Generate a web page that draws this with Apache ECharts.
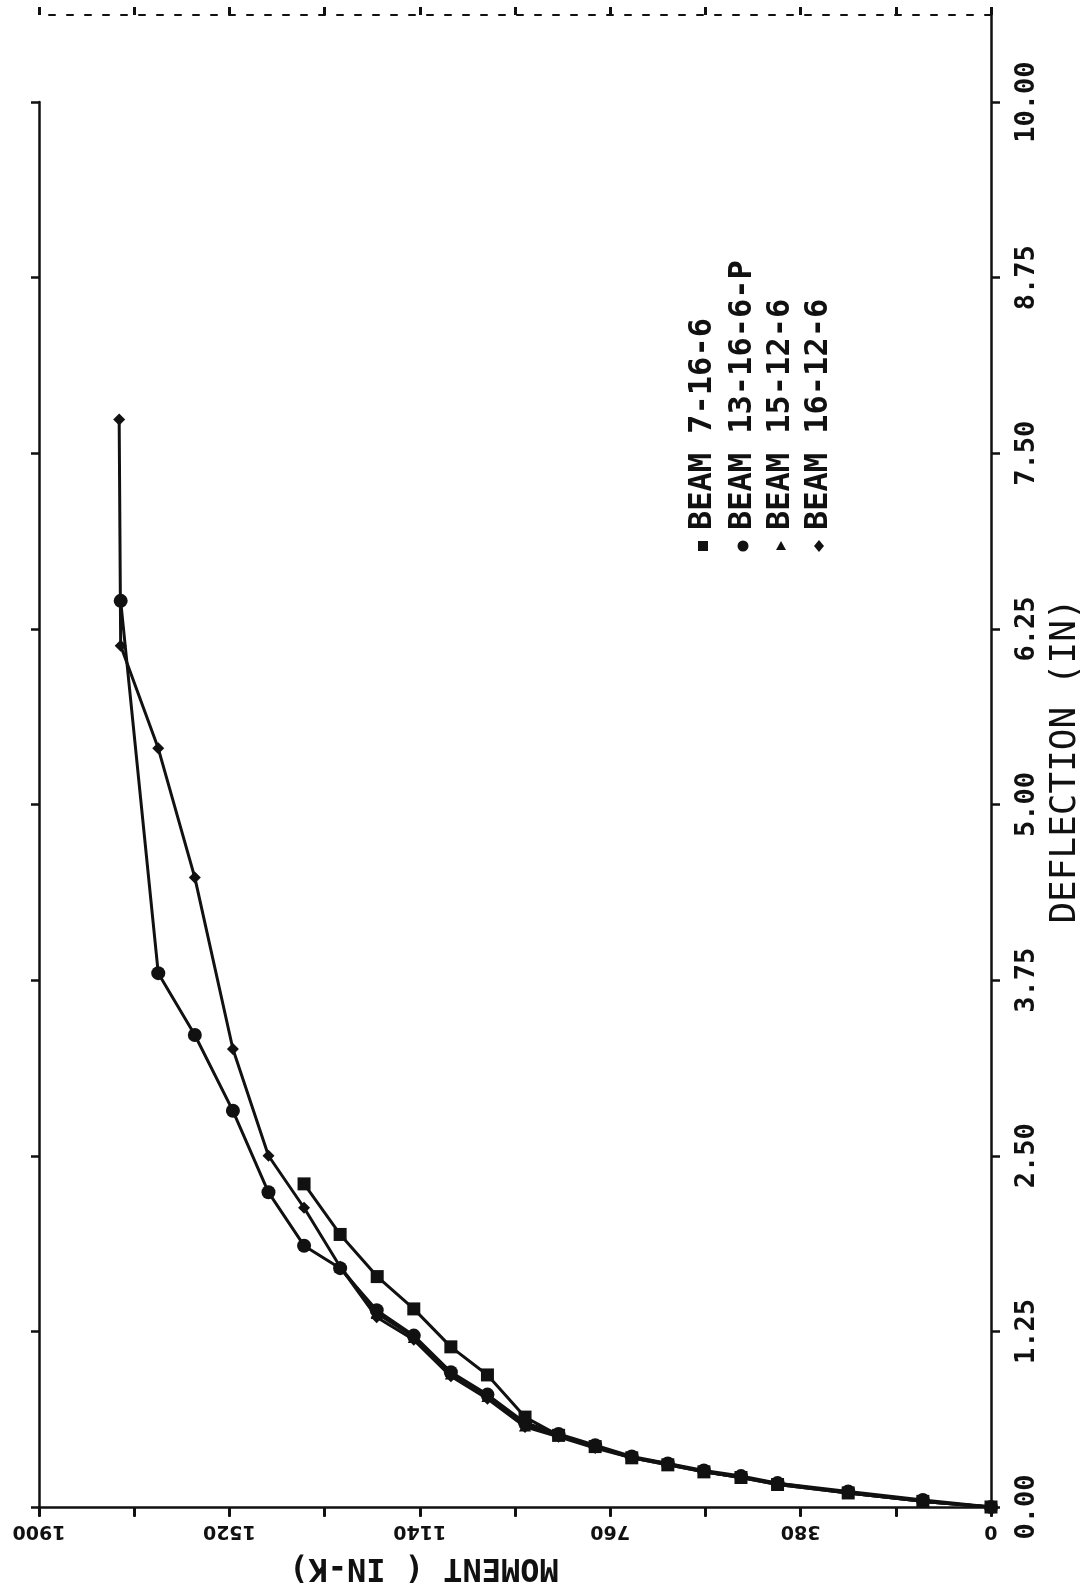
<!DOCTYPE html>
<html>
<head>
<meta charset="utf-8">
<script src="https://cdn.jsdelivr.net/npm/echarts@6/dist/echarts.min.js"></script>
<style>
  html, body { margin: 0; padding: 0; background: #ffffff; }
  #chart { width: 1087px; height: 1590px; }
</style>
</head>
<body>
<div id="chart"></div>
<script>
// Moment (in-k) vs. deflection (in) for four test beams
const beamNames = ['BEAM 7-16-6', 'BEAM 13-16-6-P', 'BEAM 15-12-6', 'BEAM 16-12-6'];
const beamSymbols = ['rect', 'circle', 'triangle', 'diamond'];

// BEAM 7-16-6
const moment7 = [0, 136, 285, 426, 499, 573, 645, 717, 790, 863, 930, 1005, 1078, 1152, 1225, 1299, 1371];
const defl7   = [0, 0.04, 0.10, 0.16, 0.21, 0.25, 0.30, 0.35, 0.43, 0.51, 0.64, 0.94, 1.14, 1.41, 1.64, 1.94, 2.30];

// BEAM 13-16-6-P
const moment13 = [0, 136, 285, 426, 499, 573, 645, 717, 790, 863, 930, 1005, 1078, 1152, 1226, 1299, 1371, 1442, 1513, 1589, 1662, 1737];
const defl13   = [0, 0.05, 0.11, 0.17, 0.22, 0.26, 0.31, 0.36, 0.44, 0.52, 0.60, 0.80, 0.96, 1.22, 1.40, 1.70, 1.86, 2.24, 2.82, 3.36, 3.80, 6.45];

// BEAM 15-12-6
const moment15 = [0, 136, 285, 426, 499, 573, 645, 717, 790, 863, 930, 1005, 1078, 1152, 1226, 1299];
const defl15   = [0, 0.04, 0.10, 0.17, 0.21, 0.25, 0.31, 0.35, 0.43, 0.51, 0.58, 0.79, 0.95, 1.21, 1.38, 1.71];

// BEAM 16-12-6
const moment16 = [0, 136, 285, 426, 499, 573, 645, 717, 790, 863, 930, 1005, 1078, 1152, 1226, 1299, 1371, 1442, 1513, 1589, 1662, 1737, 1740];
const defl16   = [0, 0.04, 0.10, 0.16, 0.21, 0.25, 0.30, 0.35, 0.42, 0.50, 0.57, 0.77, 0.93, 1.19, 1.35, 1.71, 2.13, 2.50, 3.26, 4.48, 5.40, 6.13, 7.74];

const beamMoments = [moment7, moment13, moment15, moment16];
const beamDefls = [defl7, defl13, defl15, defl16];
const beamSymbolSizes = [13, 14, 12, 12];

// Axis scales
const momentMin = 0, momentMax = 1900, momentStep = 190, momentLabelStep = 380;
const deflMin = 0, deflTop = 10, deflFrameTop = 10.62, deflStep = 1.25;

const FONT = "'DejaVu Sans Mono', 'Liberation Mono', monospace";
const INK = '#111111';

const chart = echarts.init(document.getElementById('chart'), null, { renderer: 'canvas' });

function pairs(xs, ys) { return xs.map((x, i) => [x, ys[i]]); }

const series = beamNames.map((name, i) => ({
  name: name,
  type: 'line',
  xAxisIndex: 0,
  yAxisIndex: 0,
  data: pairs(beamMoments[i], beamDefls[i]),
  symbol: beamSymbols[i],
  symbolSize: beamSymbolSizes[i],
  showAllSymbol: true,
  lineStyle: { color: INK, width: 3 },
  itemStyle: { color: INK },
  emphasis: { disabled: true },
  animation: false,
  z: 5
}));

const momentAxisBase = {
  type: 'value', min: momentMin, max: momentMax, interval: momentStep, inverse: true,
  splitLine: { show: false }
};

// Rotated legend block: key marks below, names reading upward
const legendX = [703, 743, 781, 819];
const legendKeyY = 546;
const legendTextY = 530;
const legendGraphics = [];
beamNames.forEach((name, i) => {
  legendGraphics.push({
    type: 'text',
    x: legendX[i], y: legendTextY,
    rotation: Math.PI / 2,
    style: {
      text: name, fill: INK, font: "bold 32px " + FONT,
      textAlign: 'left', textVerticalAlign: 'middle'
    },
    z: 10
  });
  const cx = legendX[i], cy = legendKeyY;
  let shape;
  if (beamSymbols[i] === 'rect') {
    shape = { type: 'rect', shape: { x: cx - 5, y: cy - 5, width: 10, height: 10 } };
  } else if (beamSymbols[i] === 'circle') {
    shape = { type: 'circle', shape: { cx: cx, cy: cy, r: 5.5 } };
  } else if (beamSymbols[i] === 'triangle') {
    shape = { type: 'polygon', shape: { points: [[cx, cy - 5], [cx + 5, cy + 4], [cx - 5, cy + 4]] } };
  } else {
    shape = { type: 'polygon', shape: { points: [[cx, cy - 6], [cx + 5, cy], [cx, cy + 6], [cx - 5, cy]] } };
  }
  shape.style = { fill: INK };
  shape.z = 10;
  legendGraphics.push(shape);
});

const option = {
  backgroundColor: '#ffffff',
  animation: false,
  grid: [
    { left: 39, right: 96, top: 15, bottom: 83, containLabel: false, outerBoundsMode: 'none' },
    { left: 39, right: 96, top: 102, bottom: 83, containLabel: false, outerBoundsMode: 'none' }
  ],
  xAxis: [
    Object.assign({}, momentAxisBase, {
      gridIndex: 0, position: 'bottom',
      name: 'MOMENT ( IN-K)', nameLocation: 'middle', nameGap: 44, nameRotate: 180,
      nameTextStyle: { color: INK, fontFamily: FONT, fontSize: 32, fontWeight: 'bold', padding: [0, 0, 0, 182] },
      axisLine: { show: true, onZero: false, lineStyle: { color: INK, width: 2.5 } },
      axisTick: { show: true, inside: false, length: 10, lineStyle: { color: INK, width: 2.5 } },
      axisLabel: {
        show: true, rotate: 180, margin: 14, color: INK,
        fontFamily: "'DejaVu Sans', sans-serif", fontSize: 19, fontWeight: 'bold',
        formatter: v => (Math.abs(v % momentLabelStep) < 1e-6 ? String(v) : '')
      }
    }),
    Object.assign({}, momentAxisBase, {
      gridIndex: 0, position: 'top',
      axisLine: { show: true, onZero: false, lineStyle: { color: INK, width: 2, type: [6, 12] } },
      axisTick: { show: true, inside: false, length: 8, lineStyle: { color: INK, width: 3 } },
      axisLabel: { show: false }
    }),
    Object.assign({}, momentAxisBase, {
      gridIndex: 0, position: 'top',
      axisLine: { show: false },
      axisTick: { show: true, inside: true, length: 9, lineStyle: { color: INK, width: 3 } },
      axisLabel: { show: false }
    }),
    Object.assign({}, momentAxisBase, {
      gridIndex: 1, show: false
    })
  ],
  yAxis: [
    {
      type: 'value', gridIndex: 0, position: 'right',
      min: deflMin, max: deflFrameTop, interval: deflStep,
      name: 'DEFLECTION (IN)', nameLocation: 'middle', nameGap: 56, nameRotate: 90,
      nameTextStyle: { color: INK, fontFamily: FONT, fontSize: 36 },
      axisLine: { show: true, onZero: false, lineStyle: { color: INK, width: 2.5 } },
      axisTick: { show: true, inside: false, length: 9, lineStyle: { color: INK, width: 2.5 } },
      axisLabel: {
        show: true, rotate: 90, margin: 22, color: INK,
        fontFamily: FONT, fontSize: 27, fontWeight: 'bold',
        showMaxLabel: false,
        formatter: v => (v <= deflTop + 1e-6 ? v.toFixed(2) : '')
      },
      splitLine: { show: false }
    },
    {
      type: 'value', gridIndex: 1, position: 'left',
      min: deflMin, max: deflTop, interval: deflStep,
      axisLine: { show: true, onZero: false, lineStyle: { color: INK, width: 2.5 } },
      axisTick: { show: true, inside: false, length: 8, lineStyle: { color: INK, width: 2.5 } },
      axisLabel: { show: false },
      splitLine: { show: false }
    },
    {
      type: 'value', gridIndex: 1, position: 'left',
      min: deflMin, max: deflTop, interval: deflStep,
      axisLine: { show: false },
      axisTick: { show: true, inside: true, length: 8, lineStyle: { color: INK, width: 2.5 } },
      axisLabel: { show: false },
      splitLine: { show: false }
    }
  ],
  graphic: legendGraphics,
  series: series
};

chart.setOption(option);
</script>
</body>
</html>
